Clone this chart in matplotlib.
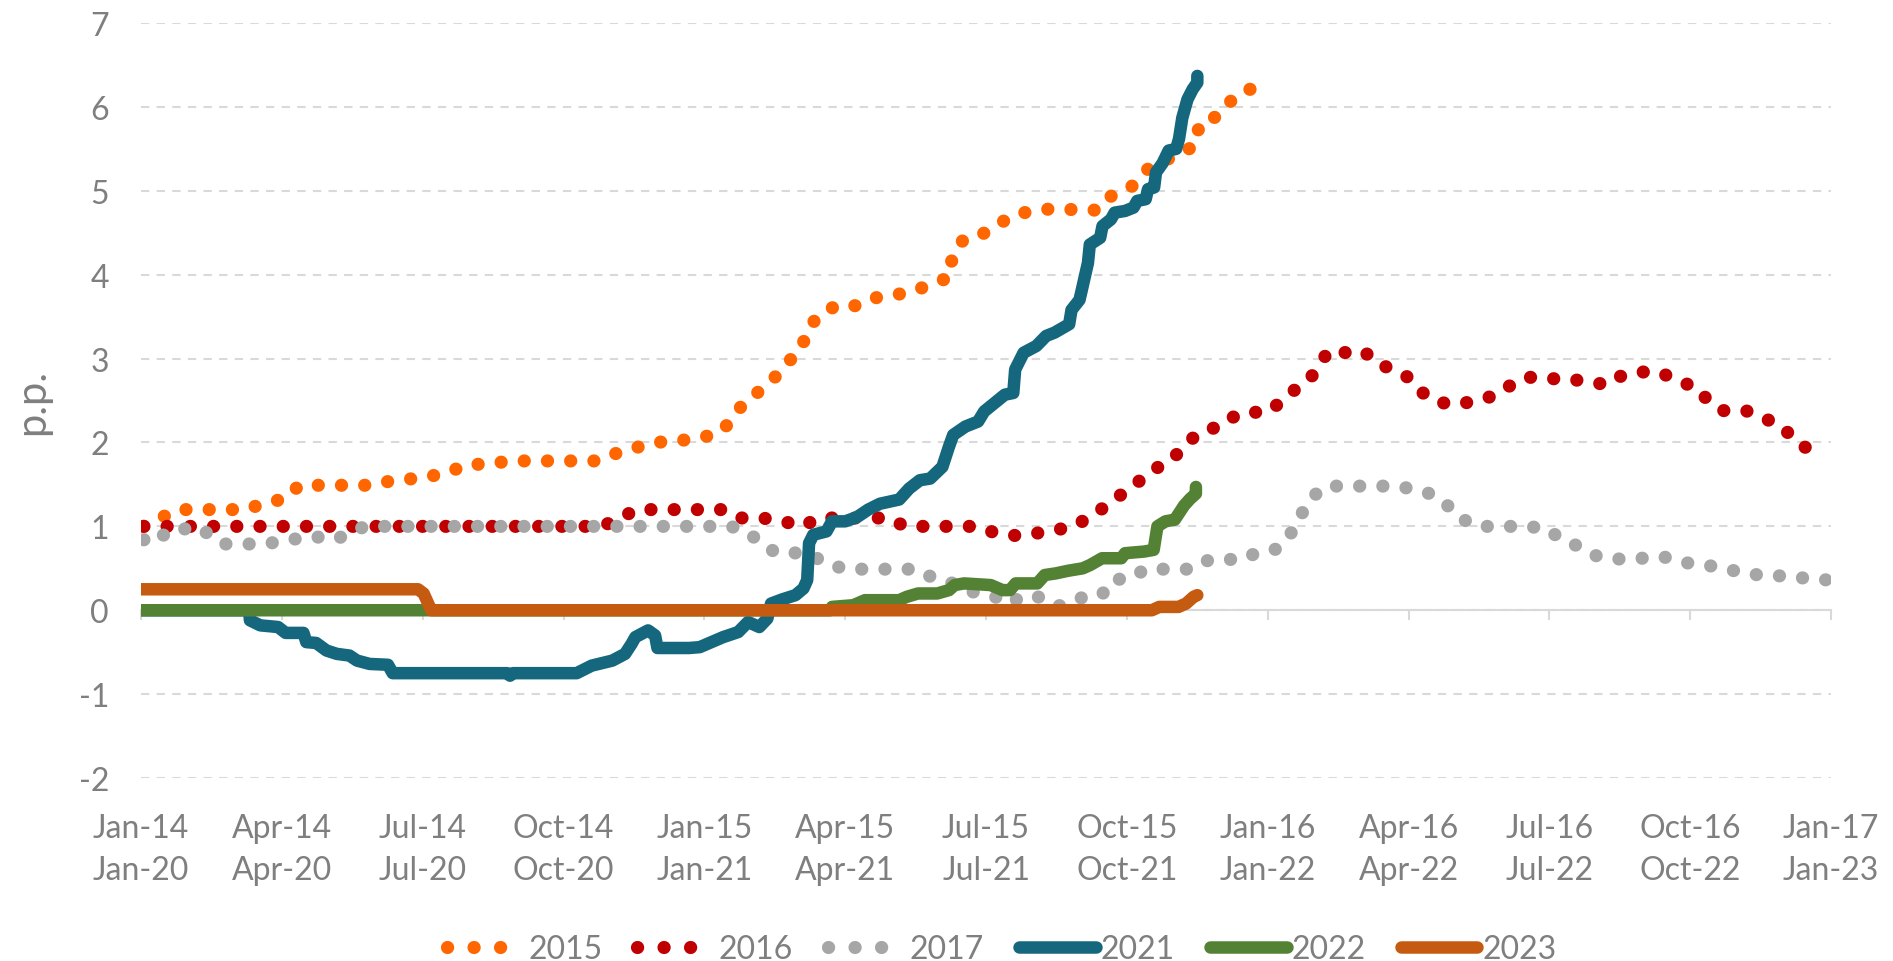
import matplotlib
matplotlib.use("Agg")
import matplotlib.pyplot as plt
from matplotlib.lines import Line2D

plt.rcParams['font.family'] = ['Lato', 'DejaVu Sans']
plt.rcParams['axes.unicode_minus'] = False

# x = months since the January of each base year (0 .. 36)
tick_pos = list(range(0, 37, 3))
tick_top = ['Jan-14', 'Apr-14', 'Jul-14', 'Oct-14', 'Jan-15', 'Apr-15', 'Jul-15',
            'Oct-15', 'Jan-16', 'Apr-16', 'Jul-16', 'Oct-16', 'Jan-17']
tick_bottom = ['Jan-20', 'Apr-20', 'Jul-20', 'Oct-20', 'Jan-21', 'Apr-21', 'Jul-21',
               'Oct-21', 'Jan-22', 'Apr-22', 'Jul-22', 'Oct-22', 'Jan-23']

m_2015 = [0.05, 0.42, 0.78, 2.23, 2.65, 3.08, 3.37, 4.84, 5.2, 5.65, 6.11, 6.57, 6.95,
          7.42, 7.82, 9.7, 10.12, 10.55, 10.95, 11.43, 11.89, 12.34, 12.63, 12.84, 13.17,
          13.49, 13.76, 14.06, 14.2, 14.49, 14.85, 15.23, 15.58, 15.97, 16.43, 16.85,
          17.23, 17.28, 17.52, 17.91, 18.28, 18.64, 19.09, 19.51, 19.98, 20.4, 20.67,
          21.1, 21.39, 21.75, 22.13, 22.48, 22.54, 22.94, 23.23, 23.56, 24.05]
v_2015 = [1.0, 1.1, 1.2, 1.2, 1.28, 1.33, 1.49, 1.49, 1.53, 1.56, 1.59, 1.65, 1.74,
          1.74, 1.78, 1.78, 1.87, 1.94, 2.0, 2.02, 2.05, 2.12, 2.3, 2.48, 2.61,
          2.77, 2.95, 3.1, 3.36, 3.54, 3.64, 3.63, 3.72, 3.75, 3.8, 3.89,
          3.97, 4.23, 4.42, 4.48, 4.61, 4.72, 4.77, 4.79, 4.77, 4.77, 4.94,
          5.05, 5.24, 5.35, 5.44, 5.55, 5.81, 5.89, 6.08, 6.21, 6.21]

m_2016 = [0.06, 9.82, 10.2, 10.56, 12.36, 12.74, 13.23, 13.68, 14.09, 14.43, 15.9, 16.28,
          17.75, 18.16, 18.63, 19.09, 19.42, 19.87, 20.2, 20.55, 20.88, 21.24, 21.58,
          21.96, 22.24, 22.56, 22.95, 23.12, 23.52, 23.99, 24.32, 24.6, 24.9, 25.1,
          25.29, 25.69, 26.05, 26.28, 26.61, 26.98, 27.25, 27.63, 28.04, 28.35, 28.78,
          29.17, 29.53, 29.92, 30.35, 30.77, 31.21, 31.45, 31.9, 32.35, 32.74, 33.13,
          33.36, 33.69, 34.18, 34.58, 34.98, 35.23, 35.6]
v_2016 = [1.0, 1.0, 1.1, 1.2, 1.2, 1.1, 1.1, 1.06, 1.0, 1.1, 1.1, 1.0,
          1.0, 0.93, 0.89, 0.92, 0.95, 1.0, 1.11, 1.24, 1.38, 1.53, 1.68,
          1.79, 1.98, 2.12, 2.19, 2.27, 2.36, 2.36, 2.5, 2.64, 2.76, 2.92,
          3.09, 3.07, 3.09, 2.96, 2.88, 2.78, 2.61, 2.48, 2.45, 2.49, 2.55,
          2.68, 2.78, 2.76, 2.76, 2.73, 2.69, 2.78, 2.84, 2.84, 2.73, 2.66,
          2.51, 2.38, 2.38, 2.29, 2.18, 2.02, 1.89]

m_2017 = [0.06, 0.28, 0.55, 0.75, 1.12, 1.45, 1.75, 2.67, 3.1, 3.48, 3.68, 4.13, 4.44,
          4.77, 12.57, 12.94, 13.17, 13.51, 13.86, 14.3, 14.62, 15.03, 16.5, 16.86,
          17.25, 17.62, 18.07, 18.35, 18.47, 18.84, 19.2, 19.53, 19.81, 20.04, 20.46,
          20.71, 21.03, 21.4, 22.37, 22.69, 23.06, 23.41, 23.75, 24.19, 24.39, 24.6,
          24.76, 24.94, 25.26, 26.72, 27.16, 27.51, 27.81, 28.09, 28.48, 29.46, 29.91,
          30.28, 30.63, 31.03, 31.5, 31.97, 32.41, 32.85, 33.33, 33.78, 34.19, 34.62,
          35.11, 35.57, 36.0]
v_2017 = [0.84, 0.94, 0.88, 0.94, 1.0, 0.91, 0.79, 0.79, 0.84, 0.86, 0.88, 0.84, 0.92,
          1.0, 1.0, 0.92, 0.82, 0.69, 0.69, 0.65, 0.55, 0.49, 0.49, 0.39,
          0.33, 0.23, 0.18, 0.13, 0.08, 0.18, 0.15, 0.05, 0.09, 0.15, 0.18,
          0.37, 0.37, 0.49, 0.49, 0.59, 0.61, 0.6, 0.68, 0.73, 0.84, 1.0,
          1.19, 1.35, 1.48, 1.48, 1.44, 1.38, 1.26, 1.1, 1.0, 1.0, 0.98,
          0.84, 0.76, 0.64, 0.61, 0.62, 0.64, 0.57, 0.54, 0.49, 0.44, 0.41,
          0.41, 0.37, 0.36]

m_2021 = [0, 2.3, 2.32, 2.54, 2.92, 3.08, 3.46, 3.52, 3.73, 3.95, 4.17, 4.44, 4.6, 4.87,
          5.26, 5.36, 7.8, 7.86, 7.92, 9.28, 9.6, 10.04, 10.31, 10.45, 10.53, 10.8,
          10.95, 11.0, 11.67, 11.9, 12.15, 12.4, 12.72, 12.93, 13.17, 13.34, 13.42,
          13.66, 13.94, 14.11, 14.19, 14.23, 14.32, 14.6, 14.72, 15.0, 15.25, 15.49,
          15.74, 16.15, 16.36, 16.59, 16.81, 17.07, 17.21, 17.3, 17.56, 17.83, 17.96,
          18.18, 18.4, 18.58, 18.62, 18.8, 19.07, 19.28, 19.46, 19.77, 19.82, 19.99,
          20.04, 20.17, 20.21, 20.43, 20.48, 20.66, 20.74, 20.96, 21.14, 21.22, 21.4,
          21.45, 21.58, 21.62, 21.76, 21.89, 22.05, 22.11, 22.18, 22.29, 22.4, 22.5, 22.5]
v_2021 = [0, 0, -0.12, -0.18, -0.2, -0.27, -0.27, -0.38, -0.39, -0.48, -0.52, -0.54, -0.6, -0.64,
          -0.65, -0.75, -0.75, -0.78, -0.75, -0.75, -0.66, -0.6, -0.52, -0.4, -0.32, -0.24,
          -0.3, -0.45, -0.45, -0.44, -0.38, -0.32, -0.26, -0.14, -0.2, -0.1, 0.08,
          0.13, 0.18, 0.26, 0.36, 0.8, 0.9, 0.94, 1.06, 1.06, 1.11, 1.2,
          1.27, 1.32, 1.45, 1.55, 1.57, 1.71, 1.95, 2.09, 2.19, 2.25, 2.37,
          2.47, 2.57, 2.59, 2.87, 3.07, 3.15, 3.27, 3.31, 3.41, 3.58, 3.7,
          3.82, 4.14, 4.36, 4.44, 4.58, 4.66, 4.74, 4.76, 4.8, 4.88, 4.9,
          5.02, 5.04, 5.22, 5.33, 5.48, 5.5, 5.62, 5.87, 6.09, 6.21, 6.29, 6.37]

m_2022 = [0, 14.68, 14.72, 15.17, 15.42, 16.15, 16.31, 16.55, 16.96, 17.21, 17.33, 17.53,
          18.1, 18.35, 18.51, 18.63, 19.09, 19.25, 19.49, 19.74, 20.06, 20.22, 20.47,
          20.88, 20.96, 21.37, 21.57, 21.65, 21.82, 22.02, 22.22, 22.35, 22.47, 22.47]
v_2022 = [0, 0, 0.04, 0.06, 0.12, 0.12, 0.16, 0.2, 0.2, 0.24, 0.3, 0.32,
          0.3, 0.24, 0.24, 0.32, 0.32, 0.42, 0.44, 0.47, 0.5, 0.54, 0.62,
          0.62, 0.68, 0.7, 0.72, 1.0, 1.06, 1.08, 1.25, 1.33, 1.39, 1.47]

m_2023 = [0, 5.9, 6.02, 6.18, 21.53, 21.69, 22.1, 22.26, 22.42, 22.5]
v_2023 = [0.25, 0.25, 0.2, 0.0, 0.0, 0.04, 0.04, 0.08, 0.16, 0.18]

c_2015, c_2016, c_2017 = '#FF6600', '#C00000', '#A6A6A6'
c_2021, c_2022, c_2023 = '#15677E', '#548235', '#C55A11'
grey_txt = '#7F7F7F'
grid_col = '#D9D9D9'

fig = plt.figure(figsize=(18.93, 9.62), dpi=100)
ax = fig.add_axes([0.0745, 0.1902, 0.8928, 0.7848])

dot_style = dict(lw=9.5, linestyle=(0, (0.01, 1.75)), dash_capstyle='round')
ax.plot(m_2015, v_2015, color=c_2015, **dot_style)
ax.plot(m_2016, v_2016, color=c_2016, **dot_style)
ax.plot(m_2017, v_2017, color=c_2017, **dot_style)

solid_style = dict(lw=9, solid_capstyle='round', solid_joinstyle='round')
ax.plot(m_2021, v_2021, color=c_2021, **solid_style)
ax.plot(m_2022, v_2022, color=c_2022, **solid_style)
ax.plot(m_2023, v_2023, color=c_2023, **solid_style)

ax.set_xlim(0, 36)
ax.set_ylim(-2, 7)
ax.set_yticks(range(-2, 8))
ax.grid(axis='y', color=grid_col, lw=1.5, linestyle=(0, (4, 3.5)), zorder=0)
ax.set_axisbelow(True)
for s in ax.spines.values():
    s.set_visible(False)

ax.set_xticks(tick_pos)
ax.set_xticklabels([f'{a}\n{b}' for a, b in zip(tick_top, tick_bottom)],
                   linespacing=1.52)
ax.tick_params(axis='x', length=0, pad=25, labelsize=23, labelcolor=grey_txt)
ax.tick_params(axis='y', length=0, pad=23, labelsize=23, labelcolor=grey_txt)

# horizontal axis line with tick marks sitting at y = 0
zero_axis = ax.secondary_xaxis(2 / 9)
zero_axis.set_xticks(tick_pos)
zero_axis.tick_params(axis='x', direction='out', length=7, width=1.5,
                      color=grid_col, labelbottom=False)
zero_axis.spines['bottom'].set_color(grid_col)
zero_axis.spines['bottom'].set_linewidth(1.5)

ax.set_ylabel('p.p.', fontsize=30, color=grey_txt)
ax.yaxis.set_label_coords(-0.053, 0.5)

leg_dots = dict(lw=9.5, linestyle=(0, (0.01, 2.0)), dash_capstyle='round')
handles = [
    Line2D([], [], color=c_2015, **leg_dots),
    Line2D([], [], color=c_2016, **leg_dots),
    Line2D([], [], color=c_2017, **leg_dots),
    Line2D([], [], color=c_2021, **solid_style),
    Line2D([], [], color=c_2022, **solid_style),
    Line2D([], [], color=c_2023, **solid_style),
]
labels = ['2015', '2016', '2017', '2021', '2022', '2023']
leg = fig.legend(handles, labels, loc='center', bbox_to_anchor=(0.529, 0.012),
                 ncol=6, frameon=False, fontsize=23, handlelength=2.4,
                 handletextpad=0.15, columnspacing=1.1, borderpad=0)
for t in leg.get_texts():
    t.set_color(grey_txt)

fig.savefig('out.png', dpi=100)
